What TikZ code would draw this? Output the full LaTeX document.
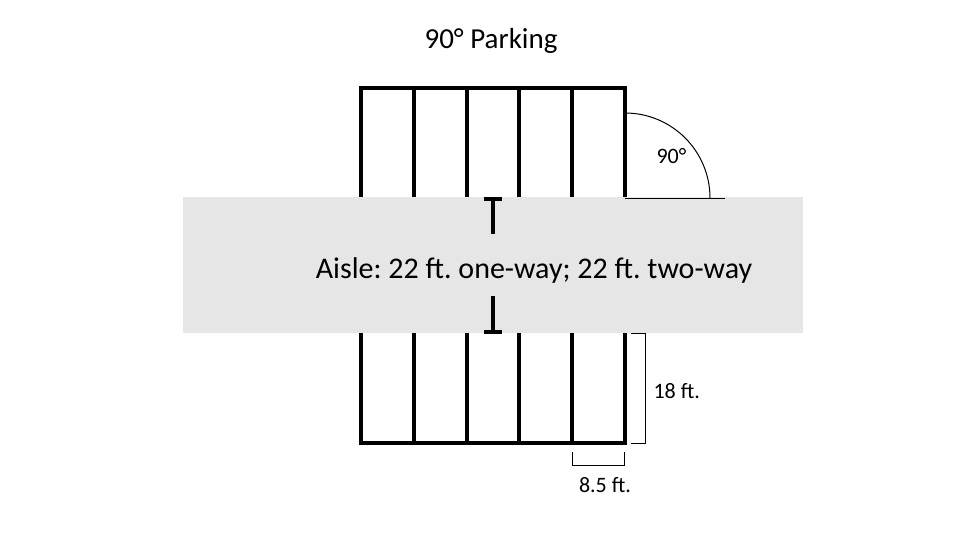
\documentclass[tikz,border=0pt]{standalone}
\usepackage{fontspec}
\setmainfont{Carlito}
\usepackage{tikz}
\definecolor{aislegray}{RGB}{230,230,230}
\frenchspacing

\begin{document}
\begin{tikzpicture}
      [x=1pt, y=-1pt,
        stall/.style={line width=3.2pt},
        dim/.style={line width=1pt},
        big/.style={font=\fontsize{30}{34}\selectfont, anchor=base},
        small/.style={font=\fontsize{22}{26}\selectfont, anchor=base}]
      \useasboundingbox (0,0) rectangle (977,549);
      \node[big, font=\fontsize{29}{33}\selectfont] (title) at (491,48) {90° Parking};
      \draw[stall] (361,197) -- (361,88) -- (625,88) -- (625,197);
      \draw[stall] (414,88) -- (414,197) (467,88) -- (467,197);
      \draw[stall] (519,88) -- (519,197) (572,88) -- (572,197);
      \draw[stall] (361,333) -- (361,443) -- (625,443) -- (625,333);
      \draw[stall] (414,333) -- (414,443) (467,333) -- (467,443);
      \draw[stall] (519,333) -- (519,443) (572,333) -- (572,443);
      \fill[aislegray] (183,197) rectangle (803,333);
      \draw[dim] (625,113) arc[start angle=90, end angle=0, radius=85pt];
      \draw[dim] (625,198) -- (725,198);
      \node[small, anchor=base west] (angle) at (653,163) {90°};
      \draw[stall] (484,199) -- (502,199) (493,199) -- (493,234);
      \draw[stall] (493,296) -- (493,332) (484,332) -- (502,332);
      \node[big] (aisle) at (534,278) {Aisle: 22 ft. one-way; 22 ft. two-way};
      \draw[dim] (631,333) -- (645,333) -- (645,443) -- (631,443);
      \node[small, anchor=base west] (depth) at (650,398) {18 ft.};
      \draw[dim] (572,452) -- (572,465) -- (624,465) -- (624,452);
      \node[small] (width) at (605,492) {8.5 ft.};
    \end{tikzpicture}
\end{document}
